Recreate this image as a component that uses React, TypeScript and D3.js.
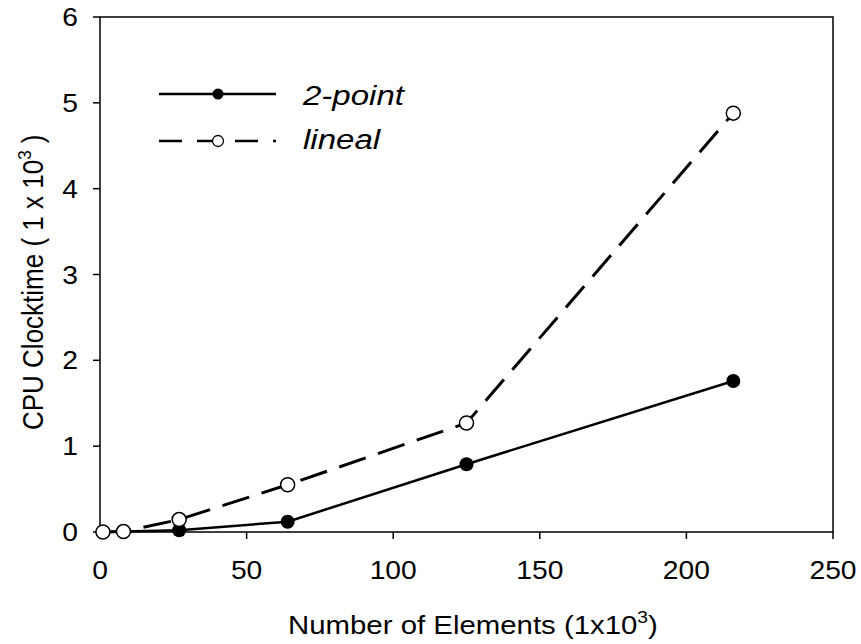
import React from "react";
import * as d3 from "d3";

const elements = [1, 8, 27, 64, 125, 216];
const twoPoint = [0.0, 0.005, 0.02, 0.12, 0.79, 1.76];
const lineal = [0.0, 0.005, 0.145, 0.55, 1.27, 4.88];
const xTicks = [0, 50, 100, 150, 200, 250];
const yTicks = [0, 1, 2, 3, 4, 5, 6];

const W = 861;
const H = 644;
const M = { left: 100, right: 28, top: 17, bottom: 112 };
const FONT = "'Liberation Sans', Arial, sans-serif";
const SX = 1.13;

export default function App() {
  const x = d3.scaleLinear().domain([0, 250]).range([M.left, W - M.right]);
  const y = d3.scaleLinear().domain([0, 6]).range([H - M.bottom, M.top]);
  const line = d3
    .line<number>()
    .x((_, i) => x(elements[i]))
    .y((d) => y(d));
  const x0 = x(0), x1 = x(250), y0 = y(0), y1 = y(6);
  return (
    <svg
      width={W}
      height={H}
      style={{ position: "absolute", left: 0, top: 0, background: "#fff" }}
      fontFamily={FONT}
    >
      <rect x={0} y={0} width={W} height={H} fill="#fff" />
      <rect x={x0} y={y1} width={x1 - x0} height={y0 - y1} fill="none" stroke="#000" strokeWidth={1.5} />
      {yTicks.map((t) => (
        <g key={"y" + t}>
          <line x1={x0 - 7} x2={x0} y1={y(t)} y2={y(t)} stroke="#000" strokeWidth={1.5} />
          <g transform={`translate(${x0 - 22}, ${y(t)}) scale(${SX},1)`}>
            <text dy="0.36em" textAnchor="end" fontSize={25}>
              {t}
            </text>
          </g>
        </g>
      ))}
      {xTicks.map((t) => (
        <g key={"x" + t}>
          <line x1={x(t)} x2={x(t)} y1={y0} y2={y0 + 7} stroke="#000" strokeWidth={1.5} />
          <g transform={`translate(${x(t)}, 579) scale(${SX},1)`}>
            <text textAnchor="middle" fontSize={25}>
              {t}
            </text>
          </g>
        </g>
      ))}
      <g transform={`translate(288, 634) scale(${SX},1)`}>
        <text fontSize={26}>
          Number of Elements (1x10
          <tspan dy={-11} fontSize={17}>3</tspan>
          <tspan dy={11}>)</tspan>
        </text>
      </g>
      <g transform={`translate(43, 430) scale(${SX},1) rotate(-90)`}>
        <text fontSize={26}>
          CPU Clocktime ( 1 x 10
          <tspan dy={-11} fontSize={17}>3</tspan>
          <tspan dy={11}> )</tspan>
        </text>
      </g>
      <path d={line(lineal) || ""} fill="none" stroke="#000" strokeWidth={3} strokeDasharray="28,13" />
      <path d={line(twoPoint) || ""} fill="none" stroke="#000" strokeWidth={2.5} />
      {twoPoint.map((v, i) => (
        <circle key={"f" + i} cx={x(elements[i])} cy={y(v)} r={7} fill="#000" />
      ))}
      {lineal.map((v, i) => (
        <circle key={"o" + i} cx={x(elements[i])} cy={y(v)} r={7} fill="#fff" stroke="#000" strokeWidth={1.5} />
      ))}
      <line x1={159} x2={276} y1={94} y2={94} stroke="#000" strokeWidth={2.5} />
      <circle cx={218} cy={94} r={5.5} fill="#000" />
      <g transform={`translate(303, 105) scale(1.18,1)`}>
        <text fontSize={28} fontStyle="italic">2-point</text>
      </g>
      <line x1={159} x2={276} y1={141} y2={141} stroke="#000" strokeWidth={2.5} strokeDasharray="23,15" />
      <circle cx={218} cy={141} r={5.5} fill="#fff" stroke="#000" strokeWidth={1.3} />
      <g transform={`translate(303, 149) scale(1.18,1)`}>
        <text fontSize={28} fontStyle="italic">lineal</text>
      </g>
    </svg>
  );
}
